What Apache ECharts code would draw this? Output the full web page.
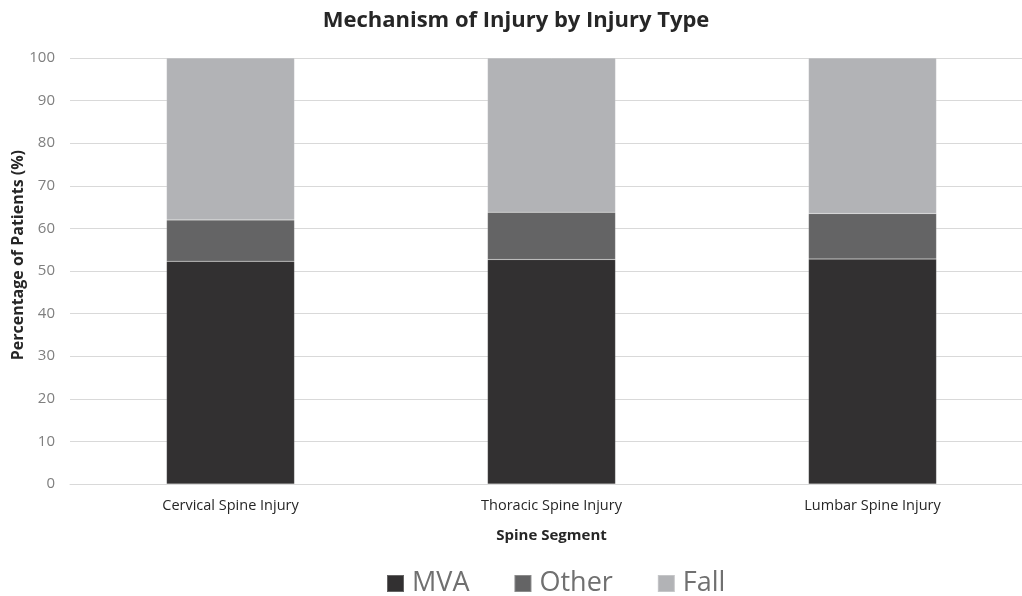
<!DOCTYPE html>
<html><head><meta charset="utf-8">
<script src="https://cdn.jsdelivr.net/npm/echarts@6/dist/echarts.min.js"></script>
<style>html,body{margin:0;padding:0;background:#fff;overflow:hidden}#c{width:1040px;height:596px}</style>
</head><body><div id="c"></div>
<script>
const categories = ['Cervical Spine Injury', 'Thoracic Spine Injury', 'Lumbar Spine Injury'];
const mva = [52.3, 52.7, 52.8];
const other = [9.7, 11.1, 10.7];
const fall = [38.0, 36.2, 36.5];
const yTicks = [0, 10, 20, 30, 40, 50, 60, 70, 80, 90, 100];
const chartTitle = 'Mechanism of Injury by Injury Type';
const yAxisTitle = 'Percentage of Patients (%)';

const font = "'Open Sans', 'Noto Sans', sans-serif";
const chart = echarts.init(document.getElementById('c'), null, {renderer: 'canvas'});
const mk = (name, data, color) => ({
  name, type: 'bar', stack: 'total', data, barWidth: 128,
  itemStyle: {color, borderColor: 'rgba(255,255,255,0.25)', borderWidth: 0.5},
  emphasis: {disabled: true}
});
chart.setOption({
  animation: false,
  legend: {
    top: 565, left: 381, itemWidth: 17, itemHeight: 17, itemGap: 44,
    icon: 'rect',
    textStyle: {fontFamily: font, fontSize: 27, color: '#707070', padding: [0, 0, 0, 3]},
    data: ['MVA', 'Other', 'Fall']
  },
  grid: {left: 70, right: 7, top: 58, bottom: 112, containLabel: false},
  graphic: [{
    type: 'text', x: 516, y: 10,
    style: {text: chartTitle, fontFamily: font, fontSize: 22, fontWeight: 'bold', fill: '#262626', align: 'center'}
  }, {
    type: 'text', left: 10, top: 150, rotation: Math.PI / 2,
    style: {text: yAxisTitle, fontFamily: font, fontSize: 16, fontWeight: 'bold', fill: '#262626'}
  }],
  xAxis: {
    type: 'category', data: categories,
    name: 'Spine Segment', nameLocation: 'middle', nameGap: 44,
    nameTextStyle: {fontFamily: font, fontSize: 15, fontWeight: 'bold', color: '#262626'},
    axisLine: {lineStyle: {color: '#d9d9d9'}}, axisTick: {show: false},
    axisLabel: {fontFamily: font, fontSize: 14.5, color: '#262626', margin: 14}
  },
  yAxis: {
    type: 'value', min: 0, max: 100, interval: 10,
    axisLabel: {fontFamily: font, fontSize: 15, color: '#7f7f7f', margin: 15,
      formatter: v => yTicks.includes(v) ? String(v) : ''},
    splitLine: {lineStyle: {color: '#d9d9d9', width: 1}},
    axisLine: {show: false}, axisTick: {show: false}
  },
  series: [
    mk('MVA', mva, '#323031'),
    mk('Other', other, '#646465'),
    mk('Fall', fall, '#b2b3b6')
  ]
});
</script></body></html>
